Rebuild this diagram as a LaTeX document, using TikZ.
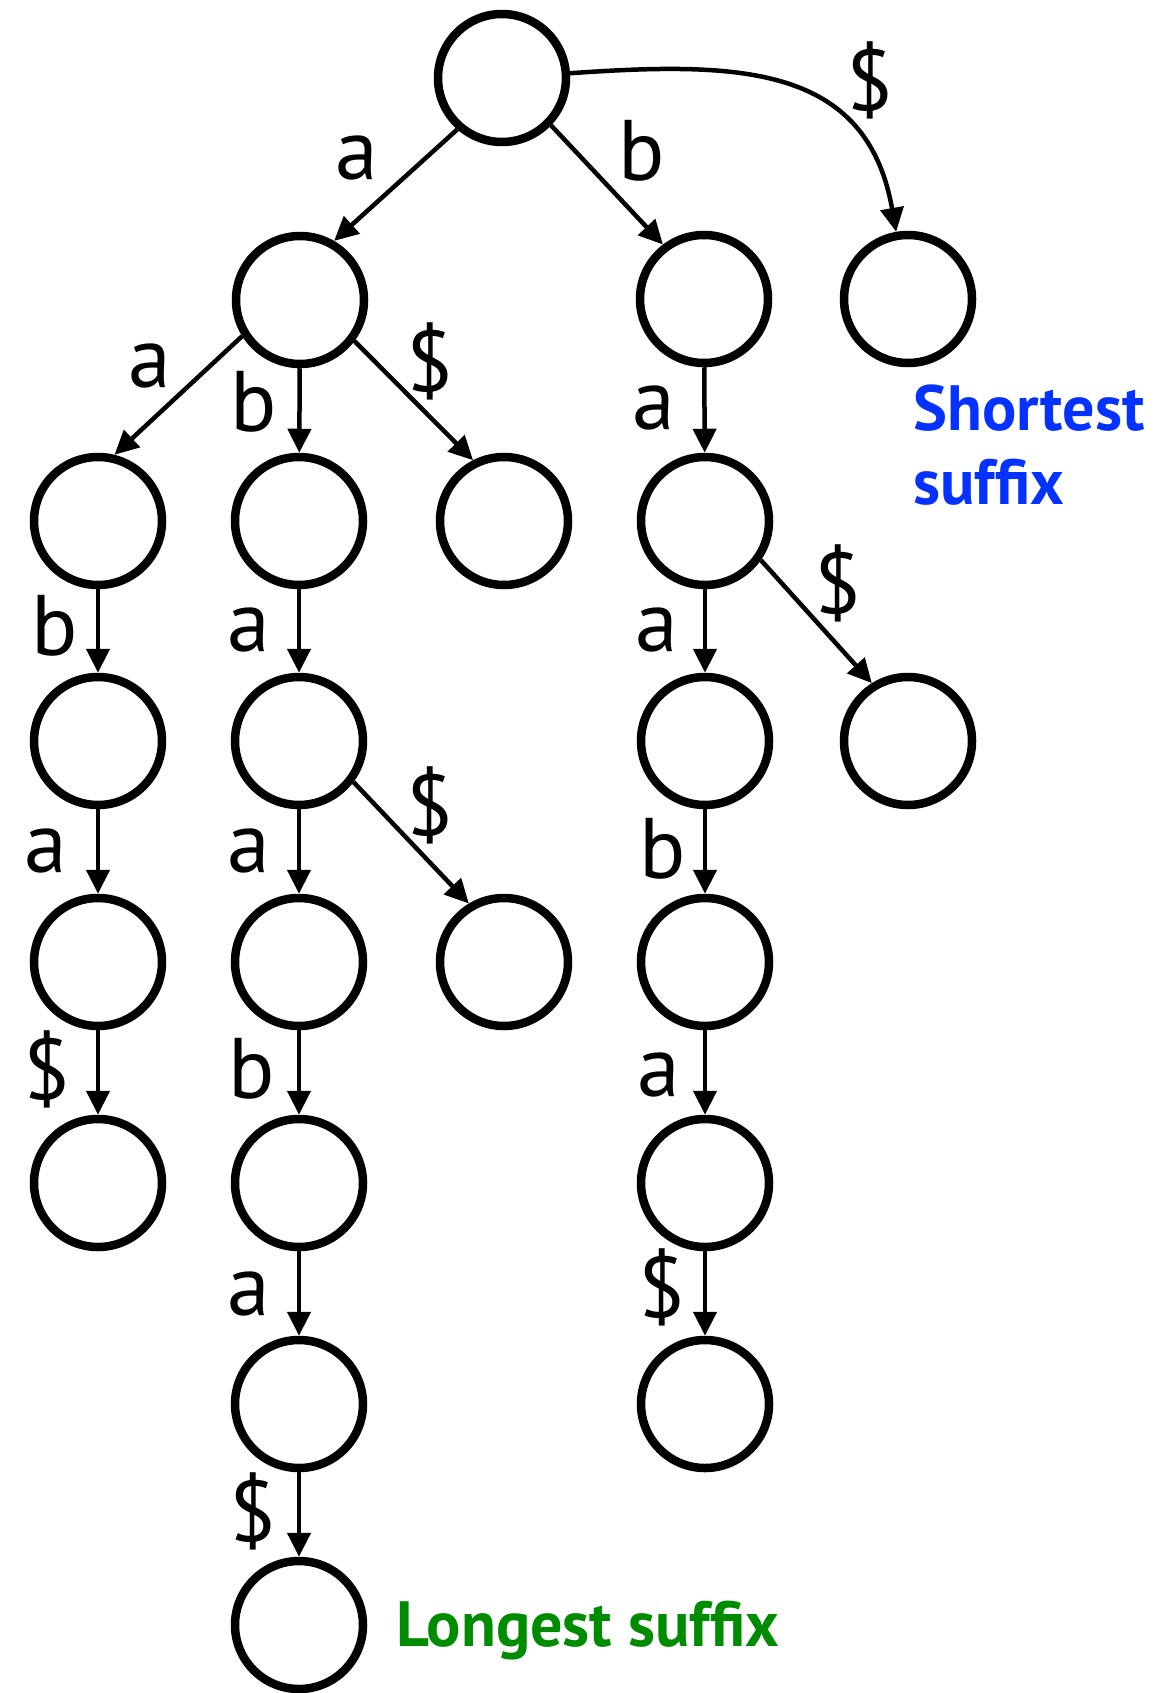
\documentclass[tikz,border=0pt]{standalone}
\usepackage{fontspec}
\setmainfont{PT Sans}
\usetikzlibrary{arrows.meta}
\definecolor{shortblue}{RGB}{5,50,255}
\definecolor{longgreen}{RGB}{0,140,0}
\begin{document}
\begin{tikzpicture}[x=1pt,y=1pt,
  vtx/.style={circle,draw,line width=8.5pt,minimum size=128pt,inner sep=0pt},
  edge/.style={line width=4.5pt,-{Triangle[length=24pt,width=23pt]}},
  lbl/.style={inner sep=0pt,font=\fontsize{86}{90}\selectfont},
  note/.style={inner sep=0pt,anchor=base west,font=\fontsize{64}{74}\selectfont\bfseries}]
\useasboundingbox (0,0) rectangle (1154,-1693);

% vertices of the trie
\node[vtx] (n)        at (502,-78)   {};
\node[vtx] (na)       at (300,-300)  {};
\node[vtx] (nb)       at (704,-299)  {};
\node[vtx] (nd)       at (908,-299)  {};
\node[vtx] (naa)      at (98,-521)   {};
\node[vtx] (nab)      at (299,-521)  {};
\node[vtx] (nad)      at (504,-521)  {};
\node[vtx] (nba)      at (705,-521)  {};
\node[vtx] (naab)     at (98,-741)   {};
\node[vtx] (naba)     at (299,-741)  {};
\node[vtx] (nbaa)     at (705,-741)  {};
\node[vtx] (nbad)     at (908,-741)  {};
\node[vtx] (naaba)    at (98,-962)   {};
\node[vtx] (nabaa)    at (299,-962)  {};
\node[vtx] (nabad)    at (504,-962)  {};
\node[vtx] (nbaab)    at (705,-962)  {};
\node[vtx] (naabad)   at (98,-1183)  {};
\node[vtx] (nabaab)   at (299,-1183) {};
\node[vtx] (nbaaba)   at (705,-1183) {};
\node[vtx] (nabaaba)  at (299,-1404) {};
\node[vtx] (nbaabad)  at (705,-1404) {};
\node[vtx] (nabaabad) at (299,-1625) {};

% edges
\draw[edge] (n.229) -- (na.60);
\draw[edge] (n.-44) -- (nb.127);
\draw[edge] (n) to[out=4,in=100,looseness=1.2] (nd);
\draw[edge] (na.212) -- (naa.76);
\draw[edge] (na) -- (nab);
\draw[edge] (na.-37) -- (nad.117);
\draw[edge] (nb) -- (nba);
\draw[edge] (naa) -- (naab);
\draw[edge] (nab) -- (naba);
\draw[edge] (nba) -- (nbaa);
\draw[edge] (nba.-35) -- (nbad.122);
\draw[edge] (naab) -- (naaba);
\draw[edge] (naba) -- (nabaa);
\draw[edge] (naba.-37) -- (nabad.121);
\draw[edge] (nbaa) -- (nbaab);
\draw[edge] (naaba) -- (naabad);
\draw[edge] (nabaa) -- (nabaab);
\draw[edge] (nbaab) -- (nbaaba);
\draw[edge] (nabaab) -- (nabaaba);
\draw[edge] (nbaaba) -- (nbaabad);
\draw[edge] (nabaaba) -- (nabaabad);

% edge labels
\node[lbl] (l1)  at (357,-158)  {a};
\node[lbl] (l2)  at (642,-151)  {b};
\node[lbl] (l3)  at (870,-80)   {\$};
\node[lbl] (l4)  at (150,-366)  {a};
\node[lbl] (l5)  at (254,-402)  {b};
\node[lbl] (l6)  at (430,-361)  {\$};
\node[lbl] (l7)  at (654,-408)  {a};
\node[lbl] (l8)  at (55,-626)   {b};
\node[lbl] (l9)  at (249,-630)  {a};
\node[lbl] (l10) at (657,-630)  {a};
\node[lbl] (l11) at (838,-583)  {\$};
\node[lbl] (l12) at (46,-851)   {a};
\node[lbl] (l13) at (249,-851)  {a};
\node[lbl] (l14) at (430,-805)  {\$};
\node[lbl] (l15) at (663,-849)  {b};
\node[lbl] (l16) at (47,-1069)  {\$};
\node[lbl] (l17) at (252,-1069) {b};
\node[lbl] (l18) at (659,-1075) {a};
\node[lbl] (l19) at (249,-1294) {a};
\node[lbl] (l20) at (662,-1287) {\$};
\node[lbl] (l21) at (253,-1511) {\$};

% annotations
\node[note,text=shortblue] (s1) at (913,-430) {Shortest};
\node[note,text=shortblue] (s2) at (913,-504) {suffix};
\node[note,text=longgreen] (lg) at (396,-1646) {Longest suffix};
\end{tikzpicture}
\end{document}
